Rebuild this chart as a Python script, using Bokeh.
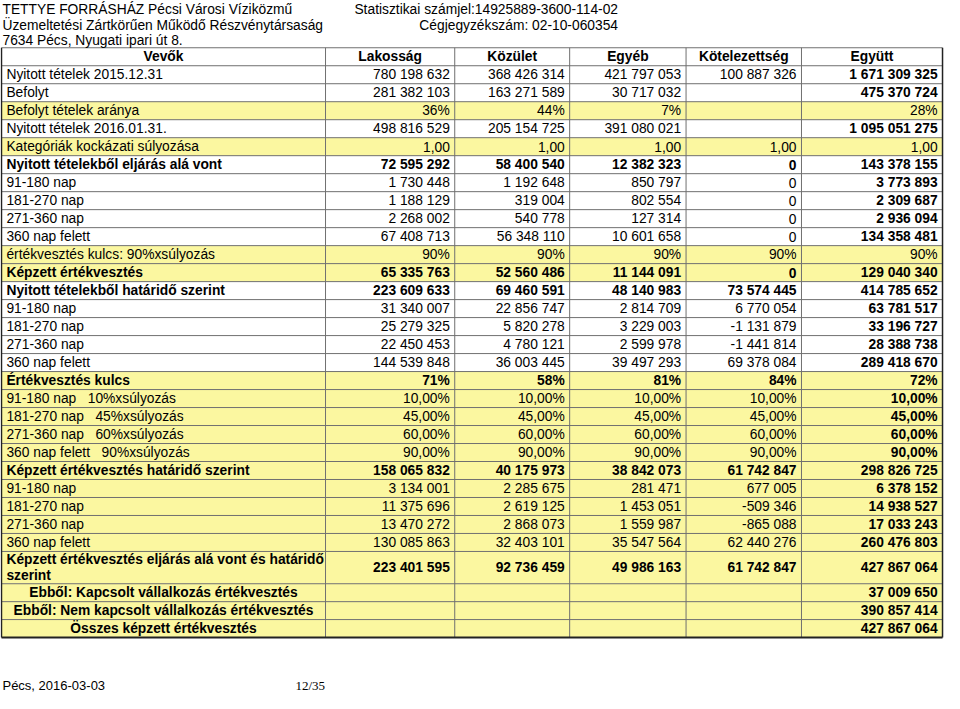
from bokeh.plotting import figure
from bokeh.models import Range1d
from bokeh.core.properties import value
from bokeh.embed import file_html
from bokeh.resources import INLINE

# ---------------- data ----------------
columns = ["Vevők", "Lakosság", "Közület", "Egyéb", "Kötelezettség", "Együtt"]

row_labels = [
    "Nyitott tételek 2015.12.31",
    "Befolyt",
    "Befolyt tételek aránya",
    "Nyitott tételek 2016.01.31.",
    "Kategóriák kockázati súlyozása",
    "Nyitott tételekből eljárás alá vont",
    "91-180 nap",
    "181-270 nap",
    "271-360 nap",
    "360 nap felett",
    "értékvesztés kulcs: 90%xsúlyozás",
    "Képzett értékvesztés",
    "Nyitott tételekből határidő szerint",
    "91-180 nap",
    "181-270 nap",
    "271-360 nap",
    "360 nap felett",
    "Értékvesztés kulcs",
    "91-180 nap \u00a0 10%xsúlyozás",
    "181-270 nap \u00a0 45%xsúlyozás",
    "271-360 nap \u00a0 60%xsúlyozás",
    "360 nap felett \u00a0 90%xsúlyozás",
    "Képzett értékvesztés határidő szerint",
    "91-180 nap",
    "181-270 nap",
    "271-360 nap",
    "360 nap felett",
    "Képzett értékvesztés eljárás alá vont és határidő\nszerint",
    "Ebből: Kapcsolt vállalkozás értékvesztés",
    "Ebből: Nem kapcsolt vállalkozás értékvesztés",
    "Összes képzett értékvesztés",
]

lakossag = [
    "780 198 632", "281 382 103", "36%", "498 816 529", "1,00",
    "72 595 292", "1 730 448", "1 188 129", "2 268 002", "67 408 713",
    "90%", "65 335 763", "223 609 633", "31 340 007", "25 279 325",
    "22 450 453", "144 539 848", "71%", "10,00%", "45,00%", "60,00%",
    "90,00%", "158 065 832", "3 134 001", "11 375 696", "13 470 272",
    "130 085 863", "223 401 595", "", "", "",
]
kozulet = [
    "368 426 314", "163 271 589", "44%", "205 154 725", "1,00",
    "58 400 540", "1 192 648", "319 004", "540 778", "56 348 110",
    "90%", "52 560 486", "69 460 591", "22 856 747", "5 820 278",
    "4 780 121", "36 003 445", "58%", "10,00%", "45,00%", "60,00%",
    "90,00%", "40 175 973", "2 285 675", "2 619 125", "2 868 073",
    "32 403 101", "92 736 459", "", "", "",
]
egyeb = [
    "421 797 053", "30 717 032", "7%", "391 080 021", "1,00",
    "12 382 323", "850 797", "802 554", "127 314", "10 601 658",
    "90%", "11 144 091", "48 140 983", "2 814 709", "3 229 003",
    "2 599 978", "39 497 293", "81%", "10,00%", "45,00%", "60,00%",
    "90,00%", "38 842 073", "281 471", "1 453 051", "1 559 987",
    "35 547 564", "49 986 163", "", "", "",
]
kotelezettseg = [
    "100 887 326", "", "", "", "1,00",
    "0", "0", "0", "0", "0",
    "90%", "0", "73 574 445", "6 770 054", "-1 131 879",
    "-1 441 814", "69 378 084", "84%", "10,00%", "45,00%", "60,00%",
    "90,00%", "61 742 847", "677 005", "-509 346", "-865 088",
    "62 440 276", "61 742 847", "", "", "",
]
egyutt = [
    "1 671 309 325", "475 370 724", "28%", "1 095 051 275", "1,00",
    "143 378 155", "3 773 893", "2 309 687", "2 936 094", "134 358 481",
    "90%", "129 040 340", "414 785 652", "63 781 517", "33 196 727",
    "28 388 738", "289 418 670", "72%", "10,00%", "45,00%", "60,00%",
    "90,00%", "298 826 725", "6 378 152", "14 938 527", "17 033 243",
    "260 476 803", "427 867 064", "37 009 650", "390 857 414", "427 867 064",
]

header_left = [
    "TETTYE FORRÁSHÁZ Pécsi Városi Víziközmű",
    "Üzemeltetési Zártkörűen Működő Részvénytársaság",
    "7634 Pécs, Nyugati ipari út 8.",
]
header_right = [
    "Statisztikai számjel:14925889-3600-114-02",
    "Cégjegyzékszám: 02-10-060354",
]
footer_place = "Pécs, 2016-03-03"
footer_page = "12/35"

# ---------------- styles ----------------
yellow_rows = {2, 4, 10, 11} | set(range(17, 31))
bold_rows = {5, 11, 12, 17, 22, 27, 28, 29, 30}
centered_label_rows = {28, 29, 30}
egyutt_regular_rows = {2, 4, 10}

YELLOW = "#FBF7A0"
GRID = "#707070"
FONT = "Liberation Sans"
FS = "13.8px"

# ---------------- layout ----------------
col_edges = [2, 330.5, 461.5, 578, 696, 813, 956]
table_top = 49.0
rh = (560.7 - table_top) / 28
heights = [rh] * 28 + [32.8] + [18.2] * 3
row_edges = [table_top]
for h in heights:
    row_edges.append(row_edges[-1] + h)

p = figure(width=944, height=693, output_backend="svg", toolbar_location=None,
           x_range=Range1d(1, 958), y_range=Range1d(705, 1), min_border=0)
p.axis.visible = False
p.grid.visible = False
p.outline_line_color = None
p.background_fill_color = "white"
p.border_fill_color = "white"

# yellow fills (row index 0 is header)
ql, qr, qt, qb = [], [], [], []
for d in range(len(row_labels)):
    if d in yellow_rows:
        ql.append(col_edges[0]); qr.append(col_edges[-1])
        qt.append(row_edges[d + 1]); qb.append(row_edges[d + 2])
p.quad(left=ql, right=qr, top=qt, bottom=qb, fill_color=YELLOW, line_color=None)

# grid lines
hx0, hx1, hy0, hy1 = [], [], [], []
for y in row_edges[:-1]:
    hx0.append(col_edges[0]); hx1.append(col_edges[-1]); hy0.append(y); hy1.append(y)
p.segment(x0=hx0, y0=hy0, x1=hx1, y1=hy1, line_color=GRID, line_width=1)
vx = col_edges[1:-1]
p.segment(x0=vx, y0=[row_edges[0]] * len(vx), x1=vx, y1=[row_edges[-1]] * len(vx),
          line_color=GRID, line_width=1)
# outer border
p.segment(x0=[col_edges[0], col_edges[-1]], y0=[row_edges[0]] * 2,
          x1=[col_edges[0], col_edges[-1]], y1=[row_edges[-1]] * 2,
          line_color="#222222", line_width=1.5)
p.segment(x0=[col_edges[0]], y0=[row_edges[-1]], x1=[col_edges[-1]], y1=[row_edges[-1]],
          line_color="#222222", line_width=2)

# text cells
groups = {}
def add(x, y, t, align, bold):
    key = (align, bold)
    g = groups.setdefault(key, {"x": [], "y": [], "t": []})
    g["x"].append(x); g["y"].append(y); g["t"].append(t)

# header row
yc = (row_edges[0] + row_edges[1]) / 2
for c, name in enumerate(columns):
    add((col_edges[c] + col_edges[c + 1]) / 2, yc, name, "center", True)

series = [lakossag, kozulet, egyeb, kotelezettseg, egyutt]
for d, lab in enumerate(row_labels):
    y0, y1 = row_edges[d + 1], row_edges[d + 2]
    yc = (y0 + y1) / 2
    bold = d in bold_rows
    lines = lab.split("\n")
    if d in centered_label_rows:
        add((col_edges[0] + col_edges[1]) / 2, yc, lab, "center", bold)
    elif len(lines) > 1:
        lh = 16.2
        start = yc - lh * (len(lines) - 1) / 2
        for k, ln in enumerate(lines):
            add(7, start + k * lh, ln, "left", bold)
    else:
        add(7, yc, lab, "left", bold)
    for c, s in enumerate(series):
        if s[d] == "":
            continue
        b = bold
        if c == 4:
            b = d not in egyutt_regular_rows
        add(col_edges[c + 2] - 5, yc, s[d], "right", b)

for (align, bold), g in groups.items():
    p.text(x=g["x"], y=g["y"], text=g["t"], text_align=align, text_baseline="middle",
           text_font=value(FONT), text_font_size=FS,
           text_font_style="bold" if bold else "normal", text_color="black")

# page header
p.text(x=[3] * 3, y=[10, 26, 42], text=header_left, text_align="left",
       text_baseline="middle", text_font=value(FONT), text_font_size=FS, text_color="black")
p.text(x=[627] * 2, y=[10, 26], text=header_right, text_align="right",
       text_baseline="middle", text_font=value(FONT), text_font_size=FS, text_color="black")

# footer
p.text(x=[3], y=[697], text=[footer_place], text_align="left", text_baseline="middle",
       text_font=value(FONT), text_font_size="13px", text_color="black")
p.text(x=[300], y=[697], text=[footer_page], text_align="left", text_baseline="middle",
       text_font=value("Liberation Serif"), text_font_size="13px", text_color="black")

open("out.html", "w").write(file_html(p, INLINE))
